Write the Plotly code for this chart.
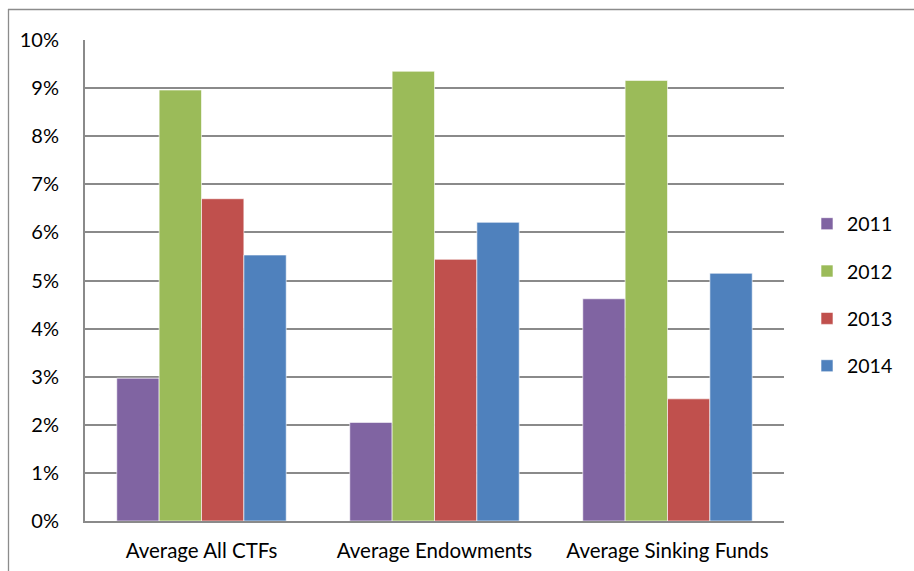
import plotly.graph_objects as go

# Average returns by fund type and year (percent)
categories = ["Average All CTFs", "Average Endowments", "Average Sinking Funds"]
years = ["2011", "2012", "2013", "2014"]
returns_2011 = [2.97, 2.05, 4.62]
returns_2012 = [8.96, 9.35, 9.16]
returns_2013 = [6.70, 5.44, 2.54]
returns_2014 = [5.53, 6.21, 5.15]
y_ticks = [0, 1, 2, 3, 4, 5, 6, 7, 8, 9, 10]
y_tick_labels = ["0%", "1%", "2%", "3%", "4%", "5%", "6%", "7%", "8%", "9%", "10%"]

series = [returns_2011, returns_2012, returns_2013, returns_2014]
colors = ["#8064A2", "#9BBB59", "#C0504D", "#4F81BD"]

FONT = "Lato, Calibri, Carlito, sans-serif"
W, H = 914, 571
ML, MR, MT, MB = 85, 130, 40, 50
PW, PH = W - ML - MR, H - MT - MB

fig = go.Figure()
for year, vals, col in zip(years, series, colors):
    fig.add_trace(go.Bar(
        x=categories, y=vals, name=year, legendgroup=year,
        marker=dict(color=col, line=dict(color="rgba(255,255,255,0.6)", width=1)),
    ))


def px_x(px):
    return (px - ML) / PW


def px_y(py):
    return (H - MB - py) / PH


grid = "#8a8a8a"
fig.update_layout(
    width=W, height=H,
    margin=dict(l=ML, r=MR, t=MT, b=MB, pad=0, autoexpand=False),
    paper_bgcolor="white", plot_bgcolor="white",
    font=dict(family=FONT, size=19, color="#000000"),
    barmode="group", bargap=0.2727, bargroupgap=0,
    showlegend=True,
    legend=dict(
        x=px_x(807), xanchor="left", y=px_y(295), yanchor="middle",
        font=dict(family=FONT, size=19.5, color="#000000"),
        tracegroupgap=19, bgcolor="rgba(0,0,0,0)",
    ),
    xaxis=dict(
        automargin=False,
        showline=True, linecolor=grid, linewidth=2,
        showgrid=False, ticks="", ticklabelstandoff=10,
        tickfont=dict(family=FONT, size=20.5),
    ),
    yaxis=dict(
        automargin=False,
        range=[0, 10], tickvals=y_ticks, ticktext=y_tick_labels,
        showline=True, linecolor=grid, linewidth=2,
        showgrid=True, gridcolor=grid, gridwidth=2,
        zeroline=False, ticks="", ticklabelstandoff=20,
        tickfont=dict(family=FONT, size=20),
    ),
    shapes=[
        dict(type="line", xref="paper", yref="paper",
             x0=px_x(8), x1=px_x(W + 5), y0=px_y(9.5), y1=px_y(9.5),
             line=dict(color="#8c8c8c", width=1.3)),
        dict(type="line", xref="paper", yref="paper",
             x0=px_x(8.5), x1=px_x(8.5), y0=px_y(9), y1=px_y(H + 5),
             line=dict(color="#8c8c8c", width=1.3)),
    ],
)

fig.write_html("out.html")
